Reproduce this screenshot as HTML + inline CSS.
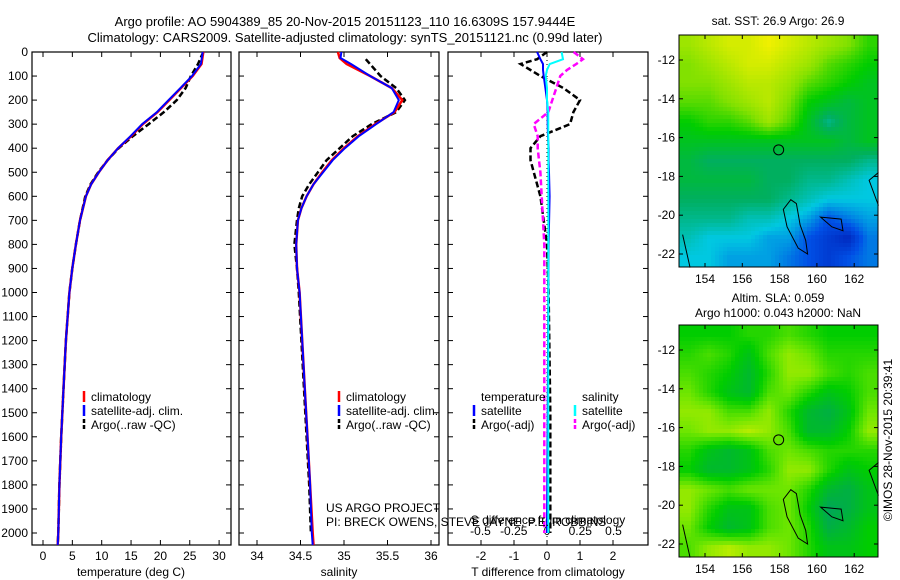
<!DOCTYPE html>
<html><head><meta charset="utf-8"><style>
body{margin:0;background:#fff}
svg{display:block;font-family:"Liberation Sans",sans-serif}
text{font-size:12px;fill:#000}
</style></head><body>
<svg id="s" width="900" height="580" viewBox="0 0 900 580">
<text x="345" y="26" text-anchor="middle" style="font-size:13px">Argo profile: AO 5904389_85 20-Nov-2015 20151123_110 16.6309S 157.9444E</text>
<text x="345" y="42" text-anchor="middle" style="font-size:13px">Climatology: CARS2009. Satellite-adjusted climatology: synTS_20151121.nc (0.99d later)</text>
</svg>
<script>
// ---- data ----
const depthsT=[0,50,100,150,200,250,300,350,400,450,500,550,600,700,800,900,1000,1200,1400,1600,1800,2000,2050];
const tempClim=[27.3,27,25.5,23.5,21.5,19.5,17,15,12.8,11,9.5,8.2,7.3,6.3,5.6,5,4.5,3.9,3.5,3.1,2.8,2.6,2.5];
const tempSat=[27.2,26.9,25.4,23.4,21.4,19.4,16.9,14.9,12.8,11,9.5,8.2,7.3,6.3,5.6,5,4.5,3.9,3.5,3.1,2.8,2.6,2.5];
const tempArgo=[27.3,26.4,25.2,24.3,22.8,20.6,18,15.3,12.9,11,9.4,8.1,7.2,6.3,5.6,5,4.5,3.9,3.5,3.1,2.8,2.6,2.5];
const depthsS=[0,25,50,100,150,200,250,300,350,400,450,500,550,600,650,700,800,900,1000,1200,1400,1600,1800,2000,2050];
const salClim=[34.93,34.95,35.03,35.3,35.55,35.67,35.58,35.36,35.16,35.0,34.86,34.75,34.65,34.57,34.51,34.47,34.45,34.46,34.49,34.52,34.55,34.58,34.61,34.64,34.65];
const salSat=[34.97,34.96,35.08,35.3,35.55,35.63,35.57,35.37,35.17,35.01,34.87,34.76,34.65,34.57,34.51,34.47,34.45,34.46,34.49,34.52,34.55,34.58,34.61,34.63,34.64];
const depthsA=[30,100,150,200,250,300,350,400,450,500,550,600,650,700,800,900,1000,1200,1400,1600,1800,2000];
const salArgo=[35.25,35.42,35.6,35.7,35.6,35.32,35.1,34.95,34.8,34.7,34.6,34.52,34.48,34.46,34.43,34.46,34.48,34.51,34.54,34.57,34.6,34.62];
const depthsD=[0,30,50,75,100,150,200,250,300,350,400,450,500,600,800,1000,1500,2000];
const dTsat=[-0.3,-0.2,-0.12,-0.12,-0.1,-0.05,0,0.02,0.02,0.03,0.05,0.05,0.06,0.08,0.05,0.04,0.02,0];
const dTargo=[0,-0.3,-0.8,-0.5,-0.2,0.5,1.0,0.8,0.7,-0.2,-0.5,-0.5,-0.4,-0.2,0,0.05,0.1,0.1];
const dSsat=[0.11,0.12,0.02,0,-0.01,0,0,0.01,0.01,0.01,0.01,0.01,0.01,0.01,0.01,0.01,0.01,0.01];
const dSargo=[0.2,0.27,0.22,0.15,0.1,0.07,0.04,0.01,-0.1,-0.07,-0.07,-0.06,-0.05,-0.04,-0.02,-0.02,-0.02,-0.02];
const depthTicks=[0,100,200,300,400,500,600,700,800,900,1000,1100,1200,1300,1400,1500,1600,1700,1800,1900,2000];
const tempTicks=[0,5,10,15,20,25,30];
const salTicks=[34,34.5,35,35.5,36];
const dTTicks=[-2,-1,0,1,2];
const dSTicks=[-0.5,-0.25,0,0.25,0.5];
const lonTicks=[154,156,158,160,162];
const latTicks=[-12,-14,-16,-18,-20,-22];
const sstGrid=[
[.85,.9,.95,.95,1,.95,.9,.85,.8,.7],
[.8,.85,.9,.95,.95,.9,.85,.75,.7,.65],
[.8,.8,.85,.9,.9,.85,.75,.7,.65,.6],
[.75,.75,.8,.85,.9,.8,.65,.6,.55,.6],
[.65,.7,.7,.75,.85,.75,.6,.45,.55,.6],
[.6,.6,.6,.6,.6,.6,.6,.6,.55,.6],
[.55,.5,.5,.5,.5,.5,.5,.5,.5,.45],
[.55,.55,.55,.55,.5,.5,.45,.45,.4,.35],
[.5,.5,.5,.5,.5,.45,.4,.35,.35,.35],
[.45,.45,.45,.4,.4,.35,.3,.2,.25,.3],
[.4,.35,.35,.35,.3,.3,.2,.15,.1,.25],
[.35,.35,.3,.3,.3,.25,.2,.15,.2,.25]];
const slaGrid=[
[.4,.4,.4,.5,.5,.6,.5,.4,.4,.4],
[.5,.6,.5,.3,.6,.8,.7,.5,.5,.5],
[.6,.5,.4,.2,.5,.8,.8,.6,.5,.6],
[.7,.5,.3,.2,.6,.7,.5,.3,.4,.6],
[.8,.8,.6,.6,.8,.5,.2,.1,.3,.7],
[.7,.8,.8,.9,.8,.6,.2,.2,.4,.8],
[.5,.3,.2,.3,.6,.7,.6,.5,.5,.5],
[.4,.2,.2,.3,.5,.8,.8,.5,.3,.4],
[.8,.7,.6,.7,.7,.7,.5,.2,.1,.3],
[.8,.5,.3,.3,.6,.7,.4,0,.1,.3],
[.7,.4,.2,.3,.6,.7,.5,.1,.2,.4],
[.6,.8,.9,.8,.8,.7,.5,.3,.3,.4]];
// ---- helpers ----
const NS="http://www.w3.org/2000/svg", S=document.getElementById('s');
function mk(t,a,p){const e=document.createElementNS(NS,t);for(const k in a)e.setAttribute(k,a[k]);(p||S).appendChild(e);return e;}
const PT=52,PB=545;
const yD=d=>52+d*0.2405;
const xT=v=>43+v*5.87, xS=v=>257+(v-34)*87, xDT=v=>547+v*33, xDS=v=>547+v*133;
function panel(x0,x1,name){const r=mk('rect',{x:x0,y:PT,width:x1-x0,height:PB-PT,fill:'none',stroke:'#000','stroke-width':1.2});
}
function line(ds,vs,fx,col,w,dash,name){const pts=ds.map((d,i)=>fx(vs[i]).toFixed(1)+','+yD(d).toFixed(1)).join(' ');
const p=mk('polyline',{points:pts,fill:'none',stroke:col,'stroke-width':w});if(dash)p.setAttribute('stroke-dasharray',dash);
}
function xticks(ticks,fx,y,name){ticks.forEach(t=>{const x=fx(t);
mk('line',{x1:x,x2:x,y1:PB,y2:PB-5,stroke:'#000'});mk('line',{x1:x,x2:x,y1:PT,y2:PT+5,stroke:'#000'});
const tx=mk('text',{x:x,y:y,'text-anchor':'middle'});tx.textContent=String(t);
});}
function label(x,y,s,name,anchor,sz){const t=mk('text',{x:x,y:y,'text-anchor':anchor||'start'});if(sz)t.style.fontSize=sz+'px';t.textContent=s;
return t;}
// ---- panels ----
panel(32,231,'temperature-panel');panel(239,439,'salinity-panel');panel(448,648,'difference-panel');
depthTicks.forEach(d=>{const y=yD(d);[32,239,448].forEach(x=>mk('line',{x1:x,x2:x+5,y1:y,y2:y,stroke:'#000'}));
[231,439,648].forEach(x=>mk('line',{x1:x-5,x2:x,y1:y,y2:y,stroke:'#000'}));
const t=mk('text',{x:28,y:y+4,'text-anchor':'end'});t.textContent=String(d);
});
xticks(tempTicks,xT,560,'temp-tick-label');xticks(salTicks,xS,560,'salinity-tick-label');xticks(dTTicks,xDT,560,'tdiff-tick-label');
dSTicks.forEach(t=>{const tx=mk('text',{x:xDS(t),y:535,'text-anchor':'middle'});tx.textContent=String(t);
});
label(131,576,'temperature (deg C)','x-axis-title-temperature','middle');
label(339,576,'salinity','x-axis-title-salinity','middle');
label(548,576,'T difference from climatology','x-axis-title-tdiff','middle');
label(548,524,'S difference from climatology','sdiff-axis-title','middle');
// series
line(depthsT,tempArgo,xT,'#000',2.5,'6,3','temp-argo-line');
line(depthsT,tempClim,xT,'#f00',2.5,null,'temp-climatology-line');
line(depthsT,tempSat,xT,'#00f',2,null,'temp-satellite-line');
line(depthsA,salArgo,xS,'#000',2.5,'6,3','salinity-argo-line');
line(depthsS,salClim,xS,'#f00',2.5,null,'salinity-climatology-line');
line(depthsS,salSat,xS,'#00f',2,null,'salinity-satellite-line');
mk('line',{x1:547,x2:547,y1:PT,y2:PB,stroke:'#000','stroke-dasharray':'1,3'});
line(depthsD,dTargo,xDT,'#000',2.5,'6,3','tdiff-argo-line');
line(depthsD,dSargo,xDS,'#f0f',2.5,'6,3','sdiff-argo-line');
line(depthsD,dTsat,xDT,'#00f',2,null,'tdiff-satellite-line');
line(depthsD,dSsat,xDS,'#0ff',2,null,'sdiff-satellite-line');
// legends
function leg(x,y,col,txt,name,dash){const l=mk('line',{x1:x,x2:x,y1:y-10,y2:y+1,stroke:col,'stroke-width':2.5});if(dash)l.setAttribute('stroke-dasharray','4,2');
label(x+7,y,txt,name);}
[[84,'temp'],[339,'sal']].forEach(([x,n])=>{leg(x,401,'#f00','climatology',n+'-legend-climatology');leg(x,415,'#00f','satellite-adj. clim.',n+'-legend-satellite');leg(x,429,'#000','Argo(..raw -QC)',n+'-legend-argo',1);});
label(481,401,'temperature','legend-temperature-header');label(582,401,'salinity','legend-salinity-header');
leg(474,415,'#00f','satellite','legend-tdiff-satellite');leg(474,429,'#000','Argo(-adj)','legend-tdiff-argo',1);
leg(575,415,'#0ff','satellite','legend-sdiff-satellite');leg(575,429,'#f0f','Argo(-adj)','legend-sdiff-argo',1);
label(326,512,'US ARGO PROJECT','project-credit');label(326,526,'PI: BRECK OWENS, STEVE JAYNE, P.E. ROBBINS','pi-credit');
// ---- maps ----
function lerp(stops,v){v=Math.max(0,Math.min(1,v));for(let i=1;i<stops.length;i++){if(v<=stops[i][0]){const a=stops[i-1],b=stops[i],f=(v-a[0])/(b[0]-a[0]);
return 'rgb('+[1,2,3].map(k=>Math.round(a[k]+(b[k]-a[k])*f)).join(',')+')';}}}
const sstCmap=[[0,0,0,150],[0.2,0,80,230],[0.35,0,200,225],[0.5,0,175,95],[0.65,0,205,0],[0.8,130,225,0],[1,240,240,0]];
const slaCmap=[[0,0,165,90],[0.4,0,205,0],[0.7,110,230,0],[1,220,240,0]];
function sample(grid,fr,fc){const R=grid.length,C=grid[0].length;
const r=Math.max(0,Math.min(R-1,fr)),c=Math.max(0,Math.min(C-1,fc));
const r0=Math.floor(r),c0=Math.floor(c),r1=Math.min(R-1,r0+1),c1=Math.min(C-1,c0+1),a=r-r0,b=c-c0;
return grid[r0][c0]*(1-a)*(1-b)+grid[r0][c1]*(1-a)*b+grid[r1][c0]*a*(1-b)+grid[r1][c1]*a*b;}
function map(y0,y1,grid,cmap,name,step){const x0=679,x1=878,R=grid.length,C=grid[0].length;
const g=mk('g',{});
const nx=Math.ceil((x1-x0)/step),ny=Math.ceil((y1-y0)/step);
for(let j=0;j<ny;j++)for(let i=0;i<nx;i++){const px=x0+i*step,py=y0+j*step;
const v=sample(grid,(py+step/2-y0)/(y1-y0)*R-0.5,(px+step/2-x0)/(x1-x0)*C-0.5);
const cell=mk('rect',{x:px,y:py,width:Math.min(step+0.5,x1-px),height:Math.min(step+0.5,y1-py),fill:lerp(cmap,v)},g);
}
const lon=v=>705+(v-154)*18.65, lat=v=>y0+25+(-12-v)*19.4;
const cl=mk('path',{d:`M${lon(158.6)} ${lat(-19.2)} L${lon(158.9)} ${lat(-19.4)} L${lon(159.1)} ${lat(-20.5)} L${lon(159.4)} ${lat(-21.3)} L${lon(159.5)} ${lat(-22)} L${lon(159)} ${lat(-21.7)} L${lon(158.4)} ${lat(-20.6)} L${lon(158.2)} ${lat(-19.7)} Z M${lon(160.2)} ${lat(-20.1)} L${lon(161.3)} ${lat(-20.2)} L${lon(161.4)} ${lat(-20.8)} L${lon(160.8)} ${lat(-20.6)} Z M${lon(163.3)} ${lat(-17.8)} L${lon(162.8)} ${lat(-18.2)} L${lon(163.3)} ${lat(-19.5)} M${lon(152.8)} ${lat(-21)} L${lon(153.2)} ${lat(-22.7)}`,fill:'none',stroke:'#000','stroke-width':1},g);

const ci=mk('circle',{cx:lon(157.95),cy:lat(-16.63),r:5,fill:'none',stroke:'#000'},g);

mk('rect',{x:x0,y:y0,width:x1-x0,height:y1-y0,fill:'none',stroke:'#000'},g);
lonTicks.forEach(t=>{const x=lon(t);mk('line',{x1:x,x2:x,y1:y0,y2:y0+4,stroke:'#000'});mk('line',{x1:x,x2:x,y1:y1-4,y2:y1,stroke:'#000'});
const tx=mk('text',{x:x,y:y1+16,'text-anchor':'middle'});tx.textContent=String(t);});
latTicks.forEach(t=>{const y=lat(t);mk('line',{x1:x0,x2:x0+4,y1:y,y2:y,stroke:'#000'});mk('line',{x1:x1-4,x2:x1,y1:y,y2:y,stroke:'#000'});
const tx=mk('text',{x:x0-4,y:y+4,'text-anchor':'end'});tx.textContent=String(t);});}
map(35,267,sstGrid,sstCmap,'sst-map',4);
map(325,557,slaGrid,slaCmap,'sla-map',4);
label(778,25,'sat. SST: 26.9 Argo: 26.9','sst-map-title','middle');
label(778,302,'Altim. SLA: 0.059','sla-map-title-1','middle');
label(778,317,'Argo h1000: 0.043 h2000: NaN','sla-map-title-2','middle');
const c=label(0,0,'©IMOS 28-Nov-2015 20:39:41','timestamp-credit','middle');c.setAttribute('transform','translate(892,440) rotate(-90)');
</script>
</body></html>
